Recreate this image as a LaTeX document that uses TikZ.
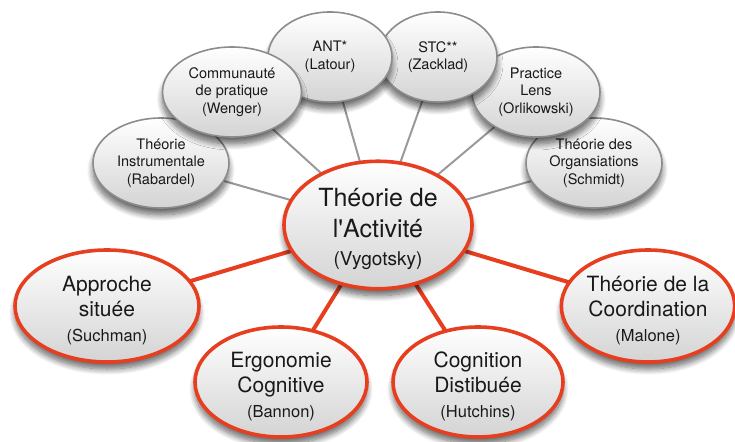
\documentclass[tikz,border=0pt]{standalone}
\usepackage{fontspec}
\setmainfont{TeX Gyre Heros}
\usetikzlibrary{shapes.geometric,shadows.blur}
\definecolor{myred}{HTML}{E63E1F}
\definecolor{mygray}{HTML}{8C8C8C}
\definecolor{linegray}{HTML}{9A9A9A}
\newcommand{\topstrut}[1]{\rule{0pt}{#1}}
\tikzset{
  ell/.style={ellipse, inner sep=0pt, align=center, text=black!90,
    top color=white, bottom color=black!17,
    blur shadow={shadow xshift=0pt, shadow yshift=-7pt, shadow blur steps=10, shadow blur radius=6pt, shadow opacity=60}},
  grayell/.style={ell, draw=mygray, line width=1.6pt, font=\fontsize{14.5}{17.5}\selectfont},
  redell/.style={ell, draw=myred, line width=3.6pt, font=\fontsize{21}{25}\selectfont},
  grayline/.style={draw=linegray, line width=2pt},
  redline/.style={draw=myred, line width=4pt}
}
\begin{document}
\begin{tikzpicture}[x=1pt,y=-1pt]
\useasboundingbox (0,0) rectangle (735,441);
% coordinates of node centres
\coordinate (ci) at (161,163);
\coordinate (cs) at (594,163);
\coordinate (cp) at (536,92);
\coordinate (cstc) at (438,57);
\coordinate (cant) at (330,57);
\coordinate (cw) at (232,92);
\coordinate (cc) at (378,225);
\coordinate (ca) at (107,306);
\coordinate (ce) at (281,382);
\coordinate (cd) at (478,382);
\coordinate (cm) at (648,306);
% connectors
\draw[grayline] (cc) -- (ci);
\draw[grayline] (cc) -- (cs);
\draw[grayline] (cc) -- (cp);
\draw[grayline] (cc) -- (cstc);
\draw[grayline] (cc) -- (cant);
\draw[grayline] (cc) -- (cw);
\draw[redline] (cc) -- (ca);
\draw[redline] (cc) -- (ce);
\draw[redline] (cc) -- (cd);
\draw[redline] (cc) -- (cm);
% gray ellipses
\node[grayell, minimum width=136pt, minimum height=90pt] (i) at (ci) {Théorie\\Instrumentale\\(Rabardel)};
\node[grayell, minimum width=136pt, minimum height=90pt] (s) at (cs) {Théorie des\\Organsiations\\(Schmidt)};
\node[grayell, minimum width=128pt, minimum height=90pt] (p) at (cp) {Practice\\Lens\\(Orlikowski)};
\node[grayell, minimum width=118pt, minimum height=90pt] (stc) at (cstc) {STC**\\(Zacklad)};
\node[grayell, minimum width=124pt, minimum height=90pt] (ant) at (cant) {ANT*\\(Latour)};
\node[grayell, minimum width=139pt, minimum height=90pt] (w) at (cw) {Communauté\\de pratique\\(Wenger)};
% centre
\node[redell, minimum width=188pt, minimum height=124pt, font=\fontsize{25}{31}\selectfont] (c) at (cc)
  {\topstrut{27pt}Théorie de\\l\textquotesingle Activité\\[-3pt]{\fontsize{19}{21}\selectfont (Vygotsky)}};
% red ellipses
\node[redell, minimum width=184pt, minimum height=112pt] (a) at (ca) {\topstrut{24pt}Approche\\située\\{\fontsize{16.5}{18.5}\selectfont (Suchman)}};
\node[redell, minimum width=172pt, minimum height=110pt] (e) at (ce) {\topstrut{24pt}Ergonomie\\Cognitive\\{\fontsize{16.5}{18.5}\selectfont (Bannon)}};
\node[redell, minimum width=170pt, minimum height=110pt] (d) at (cd) {\topstrut{24pt}Cognition\\Distibuée\\{\fontsize{16.5}{18.5}\selectfont (Hutchins)}};
\node[redell, minimum width=172pt, minimum height=112pt] (m) at (cm) {\topstrut{24pt}Théorie de la\\Coordination\\{\fontsize{16.5}{18.5}\selectfont (Malone)}};
\end{tikzpicture}
\end{document}
